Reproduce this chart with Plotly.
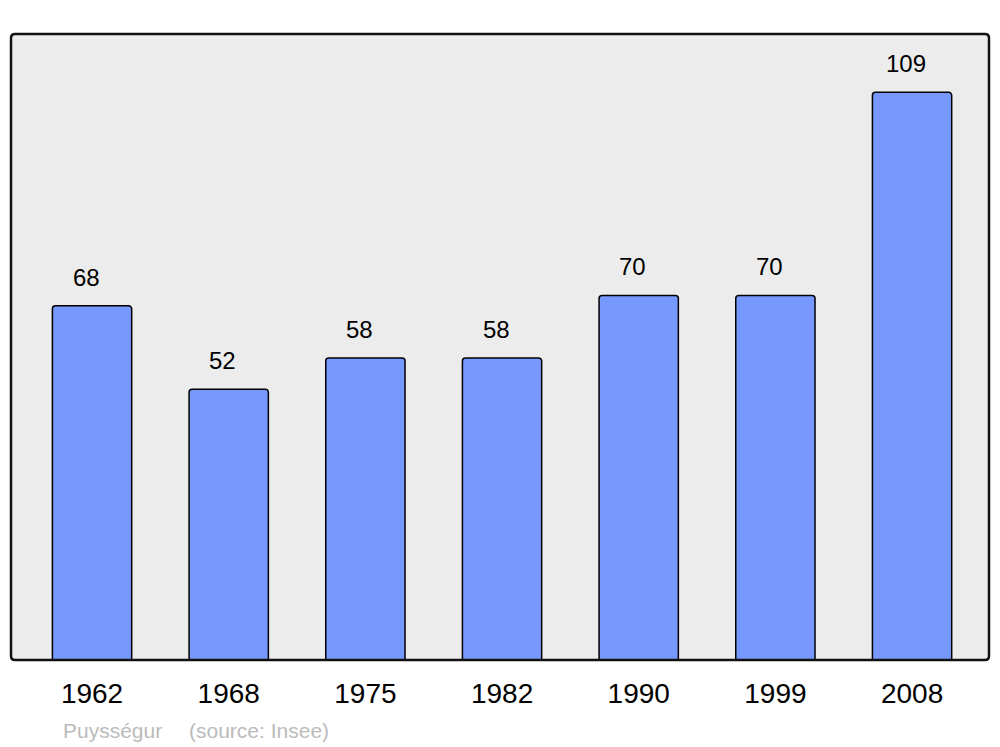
import plotly.graph_objects as go

years = ["1962", "1968", "1975", "1982", "1990", "1999", "2008"]
population = [68, 52, 58, 58, 70, 70, 109]

W, H = 1000, 747
ml, mr, mt, mb = 11, 11, 34, 87

fig = go.Figure()
fig.add_trace(go.Bar(
    x=years, y=population, width=0.58,
    marker=dict(color="#7799ff", line=dict(color="#000000", width=1.5), cornerradius=3),
    hoverinfo="skip",
))

for i, v in enumerate(population):
    fig.add_annotation(x=i, y=v, text=str(v), showarrow=False, yanchor="bottom",
                       yshift=13, xshift=-6,
                       font=dict(family="Liberation Sans", size=24, color="#000"))

# rounded frame in paper coords
pw, ph = W - ml - mr, H - mt - mb
rx, ry = 4 / pw, 4 / ph
path = (f"M {rx},0 L {1-rx},0 Q 1,0 1,{ry} L 1,{1-ry} Q 1,1 {1-rx},1 "
        f"L {rx},1 Q 0,1 0,{1-ry} L 0,{ry} Q 0,0 {rx},0 Z")
fig.add_shape(type="path", xref="paper", yref="paper", path=path,
              line=dict(color="#111111", width=2.5), layer="above")

fig.add_annotation(xref="paper", yref="paper", x=(61 - ml) / pw, y=-(730 - 660) / ph,
                   xanchor="left", yanchor="middle", text="Puysségur", showarrow=False,
                   font=dict(family="Liberation Sans", size=21, color="#bbbbbb"))
fig.add_annotation(xref="paper", yref="paper", x=(187 - ml) / pw, y=-(730 - 660) / ph,
                   xanchor="left", yanchor="middle", text="(source: Insee)", showarrow=False,
                   font=dict(family="Liberation Sans", size=21, color="#bbbbbb"))

fig.update_layout(
    width=W, height=H,
    margin=dict(l=ml, r=mr, t=mt, b=mb),
    paper_bgcolor="#ffffff", plot_bgcolor="#ececec",
    showlegend=False,
    xaxis=dict(type="category", range=[-0.593, 6.563], showgrid=False, zeroline=False, showline=False,
               ticks="", tickfont=dict(family="Liberation Sans", size=28, color="#000"),
               ticklabelstandoff=14, fixedrange=True),
    yaxis=dict(range=[0, 120.2], showgrid=False, zeroline=False, showline=False,
               showticklabels=False, ticks="", fixedrange=True),
)

fig.write_html("out.html", config={"displayModeBar": False},
               post_script="document.body.style.margin='0';document.body.style.padding='0';")
